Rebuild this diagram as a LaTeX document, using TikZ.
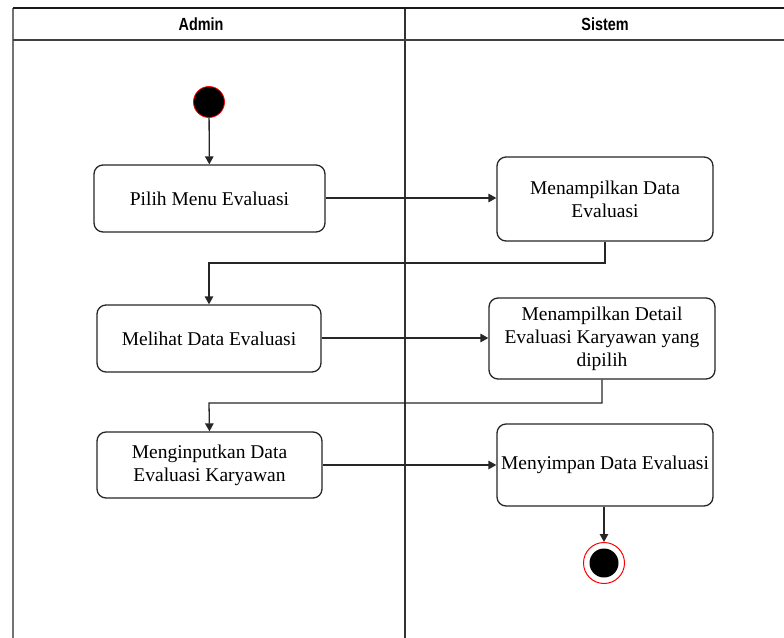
\documentclass[tikz,border=0pt]{standalone}
\usepackage{fontspec}
\setmainfont{Liberation Serif}
\newfontfamily\lanefont{Liberation Sans}
\usetikzlibrary{arrows.meta}
\begin{document}
\begin{tikzpicture}[x=1pt,y=-1pt,
  act/.style={draw=black!85,line width=1.3pt,rounded corners=9pt,fill=white,
    align=center,font=\fontsize{19.5}{23}\selectfont,inner sep=2pt},
  flow/.style={draw=black!85,line width=1.3pt,-{Triangle[length=8pt,width=8.5pt]}},
  lane/.style={line width=1.5pt},
  lanetitle/.style={font=\lanefont\bfseries\fontsize{16}{18}\selectfont}]
\useasboundingbox (0,0) rectangle (784,637);
% swimlane frame
\draw[lane,black!55] (13,8) -- (13,640);
\draw[lane,black!80] (405,8) -- (405,640);
\draw[lane,black!90] (13,8) -- (790,8);
\draw[lane,black!75] (13,40) -- (790,40);
\node[lanetitle] (ladmin) at (201,24) {\scalebox{0.9}[1.1]{Admin}};
\node[lanetitle] (lsistem) at (605,24) {\scalebox{0.9}[1.1]{Sistem}};
% start and end states
\node[circle,fill=black,draw=red,line width=0.8pt,minimum size=31pt,inner sep=0pt] (start) at (209,102) {};
\node[circle,draw=red,line width=1pt,fill=white,minimum size=41pt,inner sep=0pt] (end) at (604,563) {};
\node[circle,fill=black,minimum size=29pt,inner sep=0pt] (endcore) at (604,563) {};
% activities
\node[act,minimum width=231pt,minimum height=67pt] (a1) at (209.5,198.5) {Pilih Menu Evaluasi};
\node[act,minimum width=216pt,minimum height=84pt] (s1) at (605,199) {Menampilkan Data\\Evaluasi};
\node[act,minimum width=224pt,minimum height=67pt] (a2) at (209,338.5) {Melihat Data Evaluasi};
\node[act,minimum width=226pt,minimum height=81pt] (s2) at (602,338.5) {Menampilkan Detail\\Evaluasi Karyawan yang\\dipilih};
\node[act,minimum width=225pt,minimum height=66pt] (a3) at (209.5,465) {Menginputkan Data\\Evaluasi Karyawan};
\node[act,minimum width=216pt,minimum height=82pt] (s3) at (605,465) {Menyimpan Data Evaluasi};
% control flow
\draw[flow] (start) -- (a1);
\draw[flow] (a1.east |- 0,198) -- (s1.west |- 0,198);
\draw[flow] (s1.south) |- (209,263) -- (a2.north);
\draw[flow] (a2.east |- 0,338) -- (s2.west |- 0,338);
\draw[flow] (s2.south) |- (209,403) -- (a3.north);
\draw[flow] (a3.east |- 0,465) -- (s3.west |- 0,465);
\draw[flow] (s3.south -| end) -- (end);
\end{tikzpicture}
\end{document}
